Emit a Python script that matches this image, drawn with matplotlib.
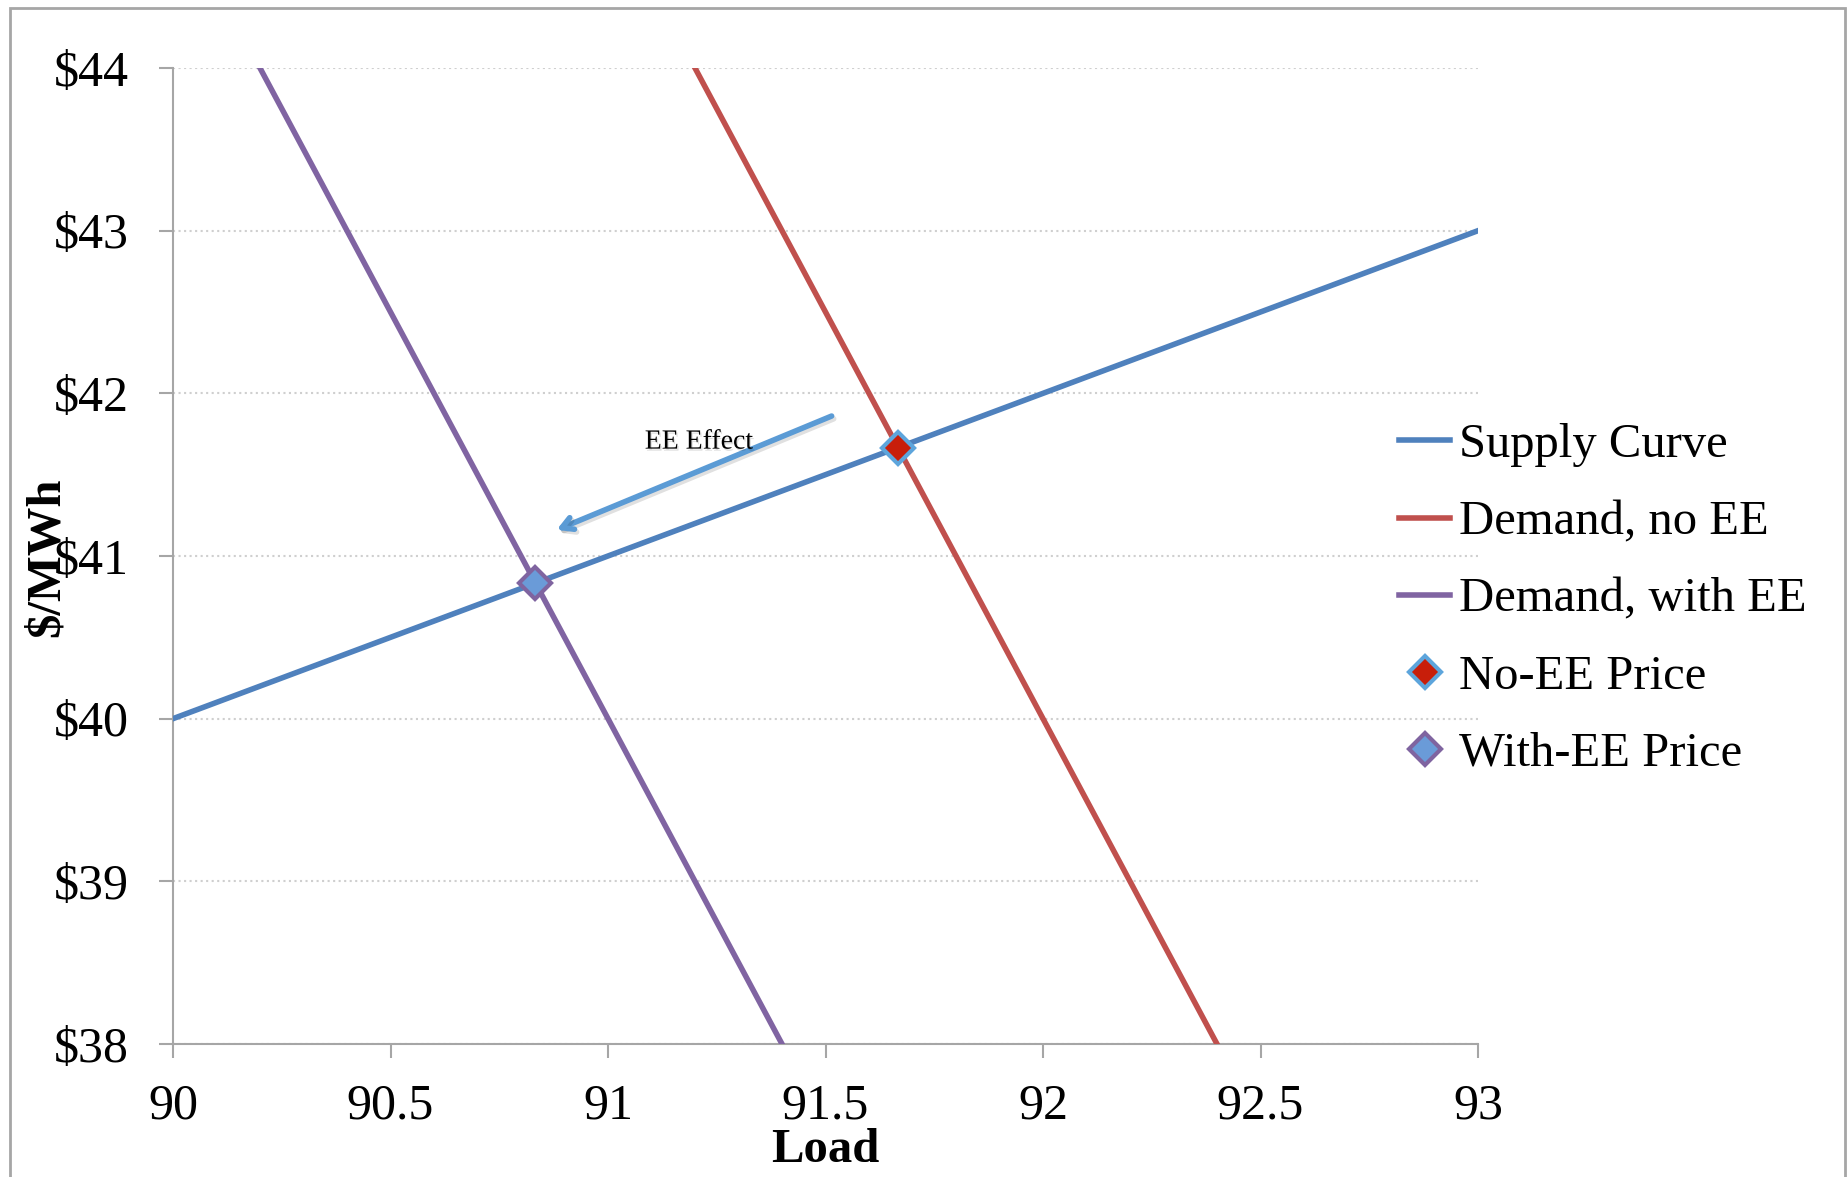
import numpy as np
import matplotlib.pyplot as plt
from matplotlib.patches import Rectangle
import matplotlib.patheffects as pe

# Data
load = [90, 93]
supply = [40, 43]
demand_no_ee_x = [91.2, 92.4]
demand_no_ee_y = [44, 38]
demand_ee_x = [90.2, 91.4]
demand_ee_y = [44, 38]
no_ee_price = (91.667, 41.667)
with_ee_price = (90.833, 40.833)

x_ticks = [90, 90.5, 91, 91.5, 92, 92.5, 93]
x_labels = ["90", "90.5", "91", "91.5", "92", "92.5", "93"]
y_ticks = [38, 39, 40, 41, 42, 43, 44]
y_labels = ["$38", "$39", "$40", "$41", "$42", "$43", "$44"]

plt.rcParams['font.family'] = ['Liberation Serif', 'DejaVu Serif']

fig = plt.figure(figsize=(18.49, 11.77), dpi=100)
ax = fig.add_axes([173/1849, 1 - 1044/1177, (1478-173)/1849, (1044-68)/1177])

# outer frame
fig.patches.append(Rectangle((10/1849, -0.01), 1835/1849, 1 - 8/1177 + 0.01,
                             transform=fig.transFigure, fill=False,
                             edgecolor='#a6a6a6', lw=2))

ax.plot(load, supply, color='#4F81BD', lw=4, label='Supply Curve', zorder=3)
ax.plot(demand_no_ee_x, demand_no_ee_y, color='#C0504D', lw=4, label='Demand, no EE', zorder=3)
ax.plot(demand_ee_x, demand_ee_y, color='#8064A2', lw=4, label='Demand, with EE', zorder=3)
ax.plot([no_ee_price[0]], [no_ee_price[1]], linestyle='none', marker='D', ms=16,
        mfc='#C81E0A', mec='#5DA5DC', mew=3, label='No-EE Price', zorder=4)
ax.plot([with_ee_price[0]], [with_ee_price[1]], linestyle='none', marker='D', ms=16,
        mfc='#6A9BD8', mec='#7F64A0', mew=3, label='With-EE Price', zorder=4)

# EE effect arrow
ax.annotate('', xy=(90.876, 41.154), xytext=(91.52, 41.867),
            arrowprops=dict(arrowstyle='->,head_length=0.8,head_width=0.45',
                            color='#5B9BD5', lw=4,
                            path_effects=[pe.SimpleLineShadow(offset=(1.5, -2), alpha=0.12),
                                          pe.Normal()]),
            zorder=5)
ax.text(91.209, 41.70, 'EE Effect', fontsize=20, ha='center', va='center',
        path_effects=[pe.withSimplePatchShadow(offset=(1, -1.5), alpha=0.12)], zorder=6)

ax.set_xlim(90, 93)
ax.set_ylim(38, 44)
ax.set_xticks(x_ticks)
ax.set_xticklabels(x_labels)
ax.set_yticks(y_ticks)
ax.set_yticklabels(y_labels)
ax.tick_params(axis='both', labelsize=36, length=10, width=1.5, color='#a6a6a6',
               direction='out')
ax.tick_params(axis='y', pad=22)
ax.tick_params(axis='x', pad=18)

ax.grid(axis='y', linestyle=':', color='#cfcfcf', lw=1.5)
for s in ['top', 'right']:
    ax.spines[s].set_visible(False)
for s in ['left', 'bottom']:
    ax.spines[s].set_color('#a6a6a6')
    ax.spines[s].set_linewidth(1.5)

fig.text(825/1849, 1 - 1150/1177, 'Load', fontsize=35, fontweight='bold',
         ha='center', va='center')
fig.text(47/1849, 1 - 557/1177, '$/MWh', fontsize=35, fontweight='bold',
         rotation=90, ha='center', va='center')

fig.legend(loc='upper left', bbox_to_anchor=(1380/1849, 1 - 404/1177),
           frameon=False, fontsize=35, handlelength=1.05, handletextpad=0.17,
           labelspacing=0.68, borderaxespad=0)

fig.savefig('out.png', dpi=100)
